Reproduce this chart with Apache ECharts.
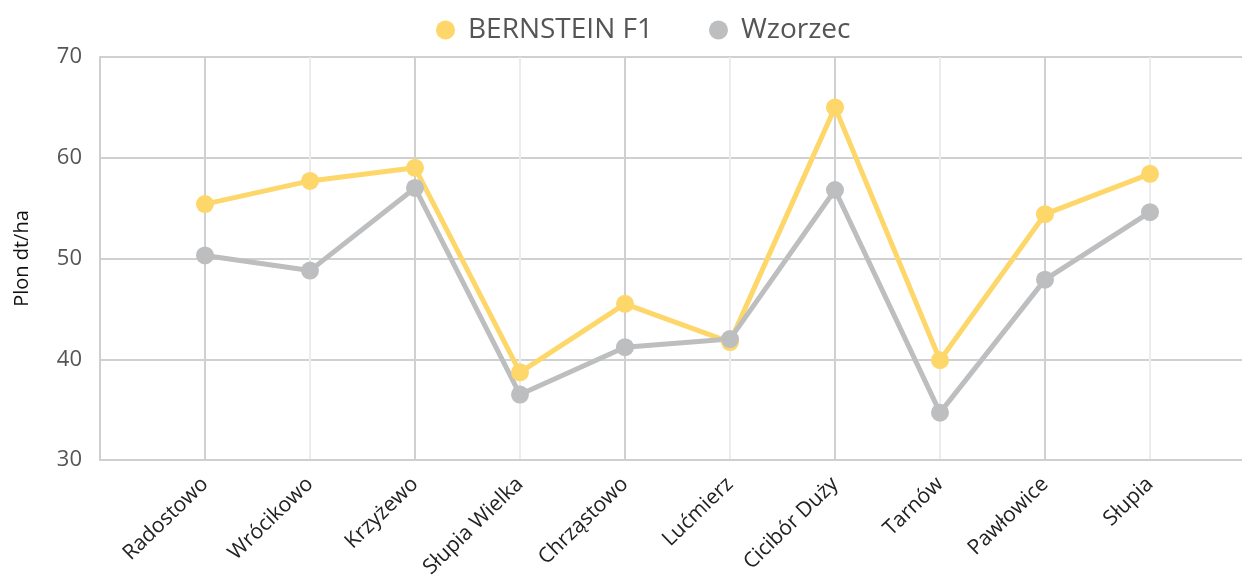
<!DOCTYPE html>
<html>
<head>
<meta charset="utf-8">
<script src="https://cdn.jsdelivr.net/npm/echarts@6/dist/echarts.min.js"></script>
<style>
  html, body { margin: 0; padding: 0; background: #fff; }
  #chart { width: 1242px; height: 577px; }
</style>
</head>
<body>
<div id="chart"></div>
<script>
// Dane
var miejscowosci = ['Radostowo', 'Wrócikowo', 'Krzyżewo', 'Słupia Wielka', 'Chrząstowo', 'Lućmierz', 'Cicibór Duży', 'Tarnów', 'Pawłowice', 'Słupia'];
var bernstein = [55.4, 57.7, 59.0, 38.7, 45.5, 41.7, 65.0, 39.9, 54.4, 58.4];
var wzorzec = [50.3, 48.8, 57.0, 36.5, 41.2, 42.0, 56.8, 34.7, 47.9, 54.6];
var yTicks = [30, 40, 50, 60, 70];

// Puste pozycje na brzegach osi (wykres zaczyna się od pustej kolumny)
var kategorie = [''].concat(miejscowosci).concat(['']);
function dopelnij(arr) { return ['-'].concat(arr).concat(['-']); }

var chart = echarts.init(document.getElementById('chart'));

var font = '"Open Sans", "Noto Sans", sans-serif';

var option = {
	animation: false,
	textStyle: { fontFamily: font },
	legend: {
		top: 11,
		left: 431,
		itemGap: 56,
		itemWidth: 19,
		itemHeight: 19,
		icon: 'circle',
		textStyle: { fontSize: 28, color: '#555', fontFamily: font, padding: [0, 0, 0, 8] },
		data: ['BERNSTEIN F1', 'Wzorzec']
	},
	// obszar wykresu wychodzi poza prawą krawędź obrazka
	grid: { left: 100, width: 1155, top: 57, bottom: 117, outerBoundsMode: 'none', containLabel: false },
	xAxis: {
		type: 'category',
		boundaryGap: false,
		data: kategorie,
		axisLine: { lineStyle: { color: '#cfcfcf', width: 2 } },
		axisTick: { show: false },
		axisLabel: { rotate: 44, margin: 21, fontSize: 21, color: '#222', fontFamily: font },
		splitLine: { show: true, lineStyle: { color: ['#ececec', '#d0d0d0'], width: 2 } }
	},
	yAxis: {
		type: 'value',
		min: yTicks[0],
		max: yTicks[yTicks.length - 1],
		interval: 10,
		name: 'Plon dt/ha',
		nameLocation: 'middle',
		nameGap: 68,
		nameTextStyle: { fontSize: 20, color: '#111', fontFamily: font },
		axisLine: { show: true, lineStyle: { color: '#cfcfcf', width: 2 } },
		axisTick: { show: false },
		axisLabel: { fontSize: 22, color: '#555', margin: 18, fontFamily: font },
		splitLine: { lineStyle: { color: '#d0d0d0', width: 2 } }
	},
	series: [
		{
			name: 'BERNSTEIN F1',
			type: 'line',
			data: dopelnij(bernstein),
			color: '#fdd76a',
			symbol: 'circle',
			symbolSize: 18,
			lineStyle: { width: 5 }
		},
		{
			name: 'Wzorzec',
			type: 'line',
			data: dopelnij(wzorzec),
			color: '#bdbec0',
			symbol: 'circle',
			symbolSize: 18,
			lineStyle: { width: 5 }
		}
	]
};

chart.setOption(option);
</script>
</body>
</html>
